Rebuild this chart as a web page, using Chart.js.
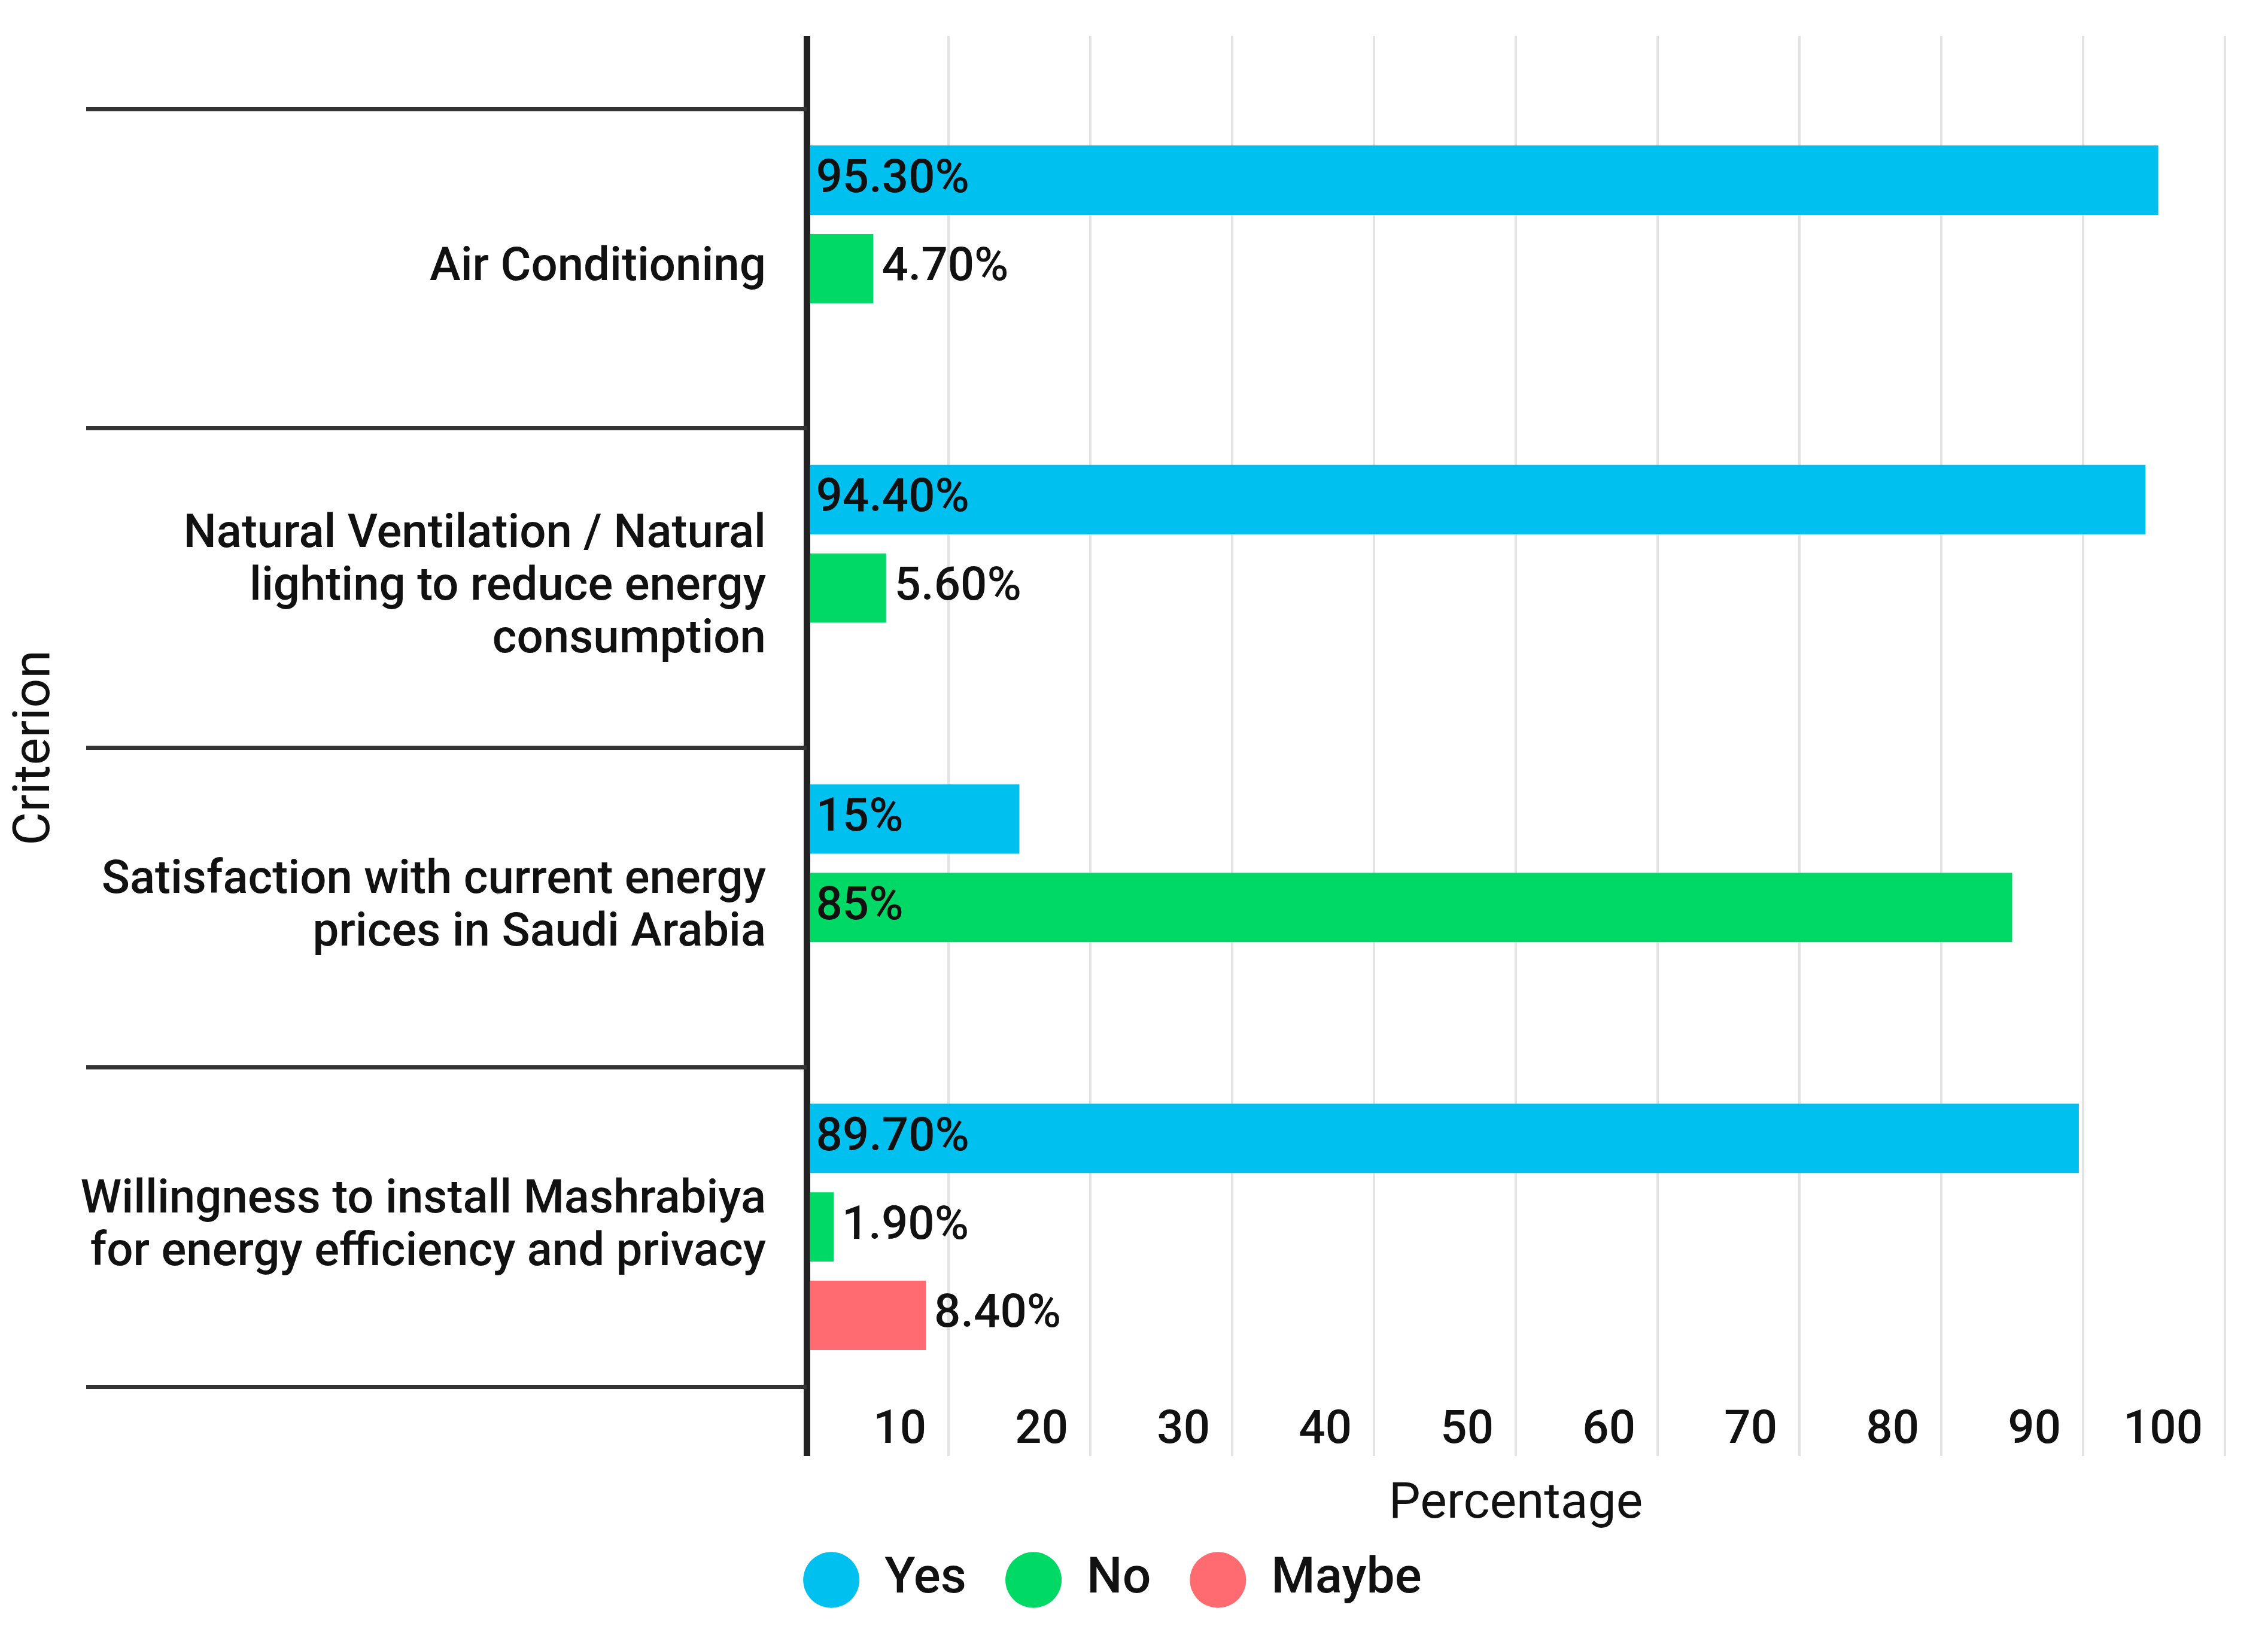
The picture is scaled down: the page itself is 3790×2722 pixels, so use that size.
<!DOCTYPE html>
<html lang="en">

<head>
    <meta charset="UTF-8">
    <title>Criterion survey chart</title>
    <style>
        html, body { margin: 0; padding: 0; background: #fff; }
        #wrap { width: 3790px; height: 2722px; }
    </style>
</head>

<body>
    <div id="wrap">
        <canvas id="myChart"></canvas>
    </div>

    <script src="https://cdn.jsdelivr.net/npm/chart.js"></script>
    <script>
        // data
        const categories = [
            ['Air Conditioning'],
            ['Natural Ventilation / Natural', 'lighting to reduce energy', 'consumption'],
            ['Satisfaction with current energy', 'prices in Saudi Arabia'],
            ['Willingness to install Mashrabiya', 'for energy efficiency and privacy']
        ];
        const yesValues = [95.3, 94.4, 15, 89.7];
        const noValues = [4.7, 5.6, 85, 1.9];
        const maybeValues = [null, null, null, 8.4];
        const seriesNames = ['Yes', 'No', 'Maybe'];
        const xTicks = [0, 10, 20, 30, 40, 50, 60, 70, 80, 90, 100];

        const colors = ['rgb(0,192,240)', 'rgb(0,217,102)', 'rgb(255,107,112)'];
        const textColor = '#111';
        const fontFamily = 'Roboto, "Noto Sans", sans-serif';

        const gridColor = (c) => (c.tick && c.tick.value === 0) ? '#222' : '#e3e3e3';
        const gridWidth = (c) => (c.tick && c.tick.value === 0) ? 11 : 4;

        function fmt(v) {
            return Number.isInteger(v) ? v + '%' : v.toFixed(2) + '%';
        }

        // value labels next to / inside the bars
        const barLabels = {
            id: 'barLabels',
            afterDatasetsDraw(chart) {
                const ctx = chart.ctx;
                ctx.save();
                ctx.font = '500 78px ' + fontFamily;
                ctx.fillStyle = textColor;
                ctx.textBaseline = 'middle';
                ctx.textAlign = 'left';
                chart.data.datasets.forEach((ds, di) => {
                    const meta = chart.getDatasetMeta(di);
                    meta.data.forEach((bar, i) => {
                        const v = ds.data[i];
                        if (v === null || v === undefined) return;
                        const txt = fmt(v);
                        const w = ctx.measureText(txt).width;
                        const len = bar.x - bar.base;
                        const x = len > w + 40 ? bar.base + 10 : bar.x + 14;
                        ctx.fillText(txt, x, bar.y);
                    });
                });
                ctx.restore();
            }
        };

        const ctx = document.getElementById('myChart');

        new Chart(ctx, {
            type: 'bar',
            data: {
                labels: categories,
                datasets: [
                    { label: seriesNames[0], data: yesValues, backgroundColor: colors[0] },
                    { label: seriesNames[1], data: noValues, backgroundColor: colors[1] },
                    { label: seriesNames[2], data: maybeValues, backgroundColor: colors[2] }
                ]
            },
            options: {
                indexAxis: 'y',
                responsive: true,
                maintainAspectRatio: false,
                animation: false,
                barPercentage: 0.784,
                categoryPercentage: 0.831,
                layout: { padding: { top: 60, right: 72, bottom: 30, left: 0 } },
                scales: {
                    x: {
                        type: 'linear',
                        position: 'bottom',
                        min: 0,
                        max: 100,
                        afterBuildTicks(scale) {
                            scale.ticks = xTicks.map(v => ({ value: v }));
                        },
                        afterFit(scale) { scale.height = 216; },
                        border: { display: false },
                        grid: {
                            color: gridColor,
                            lineWidth: gridWidth,
                            drawTicks: true,
                            tickLength: 116
                        },
                        ticks: {
                            align: 'end',
                            labelOffset: -37,
                            padding: -88,
                            maxRotation: 0,
                            autoSkip: false,
                            color: textColor,
                            font: { family: fontFamily, size: 78, weight: 500 },
                            callback: (v) => v === 0 ? '' : v
                        },
                        title: {
                            display: true,
                            text: 'Percentage',
                            color: textColor,
                            font: { family: fontFamily, size: 84, weight: 400 },
                            padding: { top: 0, bottom: -32 }
                        }
                    },
                    x2: {
                        type: 'linear',
                        axis: 'x',
                        position: 'top',
                        min: 0,
                        max: 100,
                        afterBuildTicks(scale) {
                            scale.ticks = xTicks.map(v => ({ value: v }));
                        },
                        border: { display: false },
                        grid: {
                            color: gridColor,
                            lineWidth: gridWidth,
                            drawOnChartArea: false,
                            drawTicks: true,
                            tickLength: 122
                        },
                        ticks: { display: false }
                    },
                    y: {
                        type: 'category',
                        offset: true,
                        afterFit(scale) { scale.width = 1348; },
                        border: { display: false },
                        grid: {
                            offset: true,
                            drawOnChartArea: false,
                            drawTicks: true,
                            tickLength: 1204,
                            color: '#333',
                            lineWidth: 7
                        },
                        ticks: {
                            padding: -1136,
                            autoSkip: false,
                            color: textColor,
                            font: { family: fontFamily, size: 78, weight: 500, lineHeight: 1.13 }
                        },
                        title: {
                            display: true,
                            text: 'Criterion',
                            color: textColor,
                            font: { family: fontFamily, size: 86, weight: 400 },
                            padding: { top: 9, bottom: 9 }
                        }
                    }
                },
                plugins: {
                    legend: {
                        position: 'bottom',
                        labels: {
                            usePointStyle: true,
                            pointStyle: 'circle',
                            pointStyleWidth: 94,
                            boxHeight: 66,
                            padding: 65,
                            color: textColor,
                            font: { family: fontFamily, size: 84, weight: 500 }
                        }
                    },
                    tooltip: { enabled: false }
                }
            },
            plugins: [barLabels]
        });
    </script>
</body>

</html>
